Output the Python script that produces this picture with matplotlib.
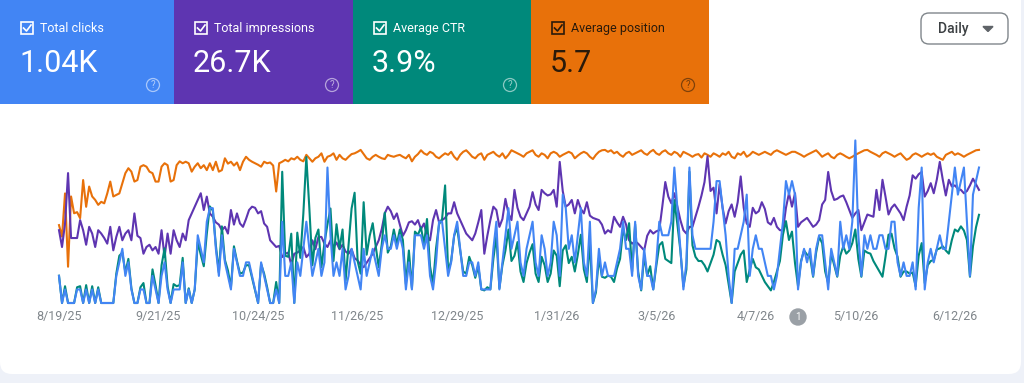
import matplotlib
matplotlib.use("Agg")
import matplotlib.pyplot as plt
from matplotlib.patches import Rectangle, Circle, FancyBboxPatch, Polygon
import numpy as np
import pandas as pd

plt.rcParams['font.family'] = ['Roboto', 'DejaVu Sans']

# daily values, 8/19/25 onward
clicks = [
    2,0,1,0,0,0,1,1,0,1, 0,1,0,1,0,0,0,0,0,2, 3,4,2,3,1,0,0,1,1,0,
    0,2,1,0,2,3,1,0,1,1, 1,3,0,1,0,1,5,4,3,6, 7,7,4,2,5,3,2,1,4,3,
    2,2,3,3,2,1,0,3,2,1, 0,0,1,0,6,2,2,3,0,3, 2,4,6,4,2,3,4,2,3,10,
    5,2,3,2,4,1,2,4,3,2, 1,4,2,3,4,3,2,4,5,4, 4,5,4,5,4,1,3,1,5,5,
    5,
    4,5,2,1,3,6,6,4,2,3, 5,6,4,2,2,3,3,2,3,1, 1,1,1,4,6,1,3,5,7,4,
    5,6,3,2,4,5,6,3,2,5, 4,2,3,6,5,2,8,7,4,5, 3,5,7,3,2,6,0,1,4,
    2,3,2,2,2,3,4,6,4,4, 2,6,2,1,4,2,2,1,3,6, 5,5,5,6,10,7,4,1,3,10,
    5,4,4,4,4,4,4,6,9,9, 7,5,2,0,4,4,5,6,8,2, 4,5,4,4,3,2,2,1,2,4,
    6,9,8,9,
    8,1,3,4,3,4,2,4,5,5, 3,1,4,3,2,6,4,5,4,6, 12,5,2,5,4,5,4,4,5,5,
    4,4,6,6,3,2,3,2,2,3, 1,7,10,1,3,4,3,4,5,4, 4,6,8,10,8,9,10,6,2,8,
    9,10,
]

impressions = [
    65,50,71,116,58,58,58,74,65,52, 68,62,50,65,62,58,53,68,47,59,
    68,56,62,65,56,80,60,58,44,50, 52,47,50,44,65,41,62,44,65,56,
    50,62,56,74,80,86,92,98,83,95, 80,77,72,70,65,68,62,83,70,80,
    71,68,75,83,86,85,80,82,71,68, 56,53,50,51,41,44,45,34,44,45,
    47,50,41,44,56,48,59,59,53,50, 56,50,54,48,52,46,44,48,40,38,
    34,32,36,40,44,50,56,66,80,86, 82,75,80,70,60,65,72,73,70,74,
    66,
    71,60,56,74,83,72,74,76,80,80, 90,80,74,68,62,59,56,62,72,83,
    44,60,74,86,83,68,75,93,80,74, 101,85,77,74,80,86,99,88,83,101,
    98,96,97,101,86,126,100,86,88,92, 80,92,84,80,90,78,76,75,74,70,
    62,65,63,
    77,72,68,77,70,56,53,
    55,53,50,47,60,65,62,64,65,86, 108,95,89,98,86,74,65,62,68,68,
    77,86,96,108,131,100,103,80,106,85, 71,82,88,77,90,113,85,71,68,85,
    80,82,90,84,72,70,76,68,65,65, 85,98,86,
    98,68,72,74,76,72,68,70,74,88, 92,117,100,92,93,95,96,90,83,76,
    80,83,65,72,79,78,77,101,83,110, 95,79,85,88,84,80,74,86,96,114,
    111,115,117,95,100,107,98,110,126,110, 96,110,104,105,102,101,98,100,105,111,
    106,101,
]

ctr = [
    2.6,0,1.6,0,0,0,1.5,1.6,0,1.7, 0,1.6,0,1.5,0,0,0,0,0,2.8,
    4.5,4.8,2.9,4.2,1.4,0,0,1.5,1.9,0, 0,3.2,1.7,0,3.6,5.2,1.6,0,1.8,1.6,
    1.7,4.3,0,1.4,0,1.3,5.8,4.6,3.5,6.6, 9.2,8.8,5.5,2.9,7.3,4.1,3.1,1.5,5.4,4.0,
    2.8,2.9,3.6,3.6,2.4,1.2,0,3.7,2.8,1.5, 0,0,2.0,0,12.5,4.5,4.4,6.6,0,6.7,
    4.3,8.5,13.9,9.0,3.6,6.2,7.0,3.4,5.7,7.5, 9.0,4.0,7.5,5.2,7.0,2.1,5.5,9.0,10.5,4.0,
    2.8,9.6,4.6,6.4,7.6,5.4,3.4,5.6,8.6,4.8, 5.4,7.0,5.6,7.0,6.0,1.8,5.0,1.4,6.8,6.5,
    7.2,
    5.6,8.0,3.5,1.8,5.2,7.5,8.0,11.2,3.0,4.0, 6.4,7.2,5.0,3.0,2.8,4.4,3.6,2.4,3.5,1.3,
    1.2,1.5,1.3,4.2,6.4,1.4,3.6,5.0,7.0,4.0, 4.5,5.8,3.0,2.0,3.8,4.8,5.6,2.8,2.0,4.4,
    3.6,2.0,2.8,5.0,4.5,1.6,5.0,5.5,3.8,4.4, 3.0,4.6,6.5,3.2,2.0,5.8,0,1.0,4.3,2.5,
    2.4,2.6,2.5,
    2.0,3.3,4.2,7.0,6.0,7.6,3.0,
    7.5,3.0,1.2,4.5,2.6,3.5,1.3,3.5,5.5,5.8, 4.2,4.0,3.8,9.8,7.5,5.0,1.6,3.2,12.5,5.5,
    4.4,4.0,4.0,3.6,3.0,3.8,4.6,6.0,5.8,4.6, 3.6,1.8,0,3.0,3.8,4.6,5.0,2.0,3.2,4.2,
    3.4,3.2,2.6,2.0,1.6,1.2,2.0,3.0,4.0,6.5, 7.8,6.0,6.8,
    3.8,1.6,4.0,5.0,4.6,4.4,2.5,4.8,6.3,5.7, 3.0,1.9,4.7,3.6,2.5,4.5,5.4,4.7,5.0,5.7,
    7.0,4.2,2.5,5.0,4.8,4.7,4.0,3.5,3.0,2.5, 4.4,6.5,6.6,5.2,4.4,2.5,3.0,3.0,2.8,2.9,
    1.6,4.5,5.7,1.9,3.6,4.0,4.1,5.1,5.2,5.4, 5.0,4.7,6.0,7.0,6.8,7.3,6.9,6.0,2.5,5.4,
    7.2,8.4,
]

position = [
    24.6,27.6,16.3,35.5,17.1,21.5,21.2,22.8,12.8,19.8, 14.5,17.1,18.0,19.3,18.5,18.9,16.3,13.2,17.1,16.7,
    16.3,13.7,11.0,9.7,10.6,13.2,12.8,9.3,8.9,9.3, 10.6,11.0,13.2,13.2,9.3,8.4,8.9,13.2,12.8,8.9,
    7.9,8.4,8.0,8.4,10.6,9.3,8.4,9.7,8.9,10.2, 8.4,10.2,8.0,10.6,10.2,7.1,8.5,8.0,9.0,8.2,
    10.2,8.0,6.7,7.5,8.0,8.4,8.8,9.3,8.0,8.4, 8.2,9.0,15.8,8.4,8.0,7.5,7.9,7.1,7.4,6.7,
    7.5,7.9,6.2,7.1,8.0,7.1,6.7,5.8,8.0,6.7, 6.4,5.8,7.5,6.2,7.1,7.5,6.7,6.0,5.8,5.4,
    4.9,6.0,7.1,7.5,6.7,6.2,6.7,7.1,7.3,6.2, 6.5,6.7,6.4,6.2,6.7,7.1,6.2,7.9,6.7,6.0,
    5.0,
    5.8,6.2,5.4,5.8,6.7,7.1,6.4,5.8,6.2,5.4, 6.7,7.5,6.2,5.4,5.0,5.8,6.7,7.1,6.2,5.8,
    7.5,6.2,5.8,5.4,6.2,6.7,5.8,7.1,6.2,5.0, 5.4,5.8,6.2,6.7,5.8,5.4,5.0,6.2,6.7,5.8,
    6.2,7.1,5.8,5.4,5.8,6.7,6.2,5.8,5.4,5.8, 7.1,6.4,5.8,5.4,5.8,6.7,7.3,6.2,5.4,5.0,
    4.9,5.4,5.0,
    5.8,5.4,6.2,6.7,5.8,5.4,6.2,5.8,5.4,5.0, 5.8,6.2,5.4,4.9,5.8,6.2,5.4,5.0,5.8,6.2,
    5.4,5.8,6.7,5.4,5.8,6.2,6.7,6.2,6.0,6.9, 5.8,6.2,6.7,5.8,6.2,6.7,5.8,6.2,5.4,6.7,
    7.1,5.8,6.2,5.4,6.7,6.2,5.4,5.8,6.2,5.8, 5.4,5.8,6.2,5.4,5.0,5.4,5.8,6.2,5.8,5.4,
    5.4,5.8,6.2,6.7,6.2,5.8,5.4,5.0,5.8,6.7, 6.2,5.8,6.7,7.1,6.2,5.8,6.2,6.7,7.1,6.7,
    6.2,5.8,5.4,5.0,4.9,5.4,5.8,6.2,6.7,5.8, 5.4,5.8,6.2,6.7,6.2,5.8,6.7,7.5,7.1,6.2,
    5.8,6.2,6.7,6.2,5.8,6.2,5.8,6.7,7.1,7.5, 6.2,5.8,5.4,6.2,5.8,6.2,6.7,6.2,5.8,5.4,
    5.0,4.9,
]

tick_labels = ['8/19/25', '9/21/25', '10/24/25', '11/26/25', '12/29/25',
               '1/31/26', '3/5/26', '4/7/26', '5/10/26', '6/12/26']

card_titles = ['Total clicks', 'Total impressions', 'Average CTR', 'Average position']
card_values = ['1.04K', '26.7K', '3.9%', '5.7']
card_colors = ['#4285f4', '#5e35b1', '#00897b', '#e8710a']
card_edges = [0, 174, 353, 531, 709]

dates = pd.date_range('2025-08-19', periods=len(clicks), freq='D')
tick_dates = pd.to_datetime(tick_labels, format='%m/%d/%y')

W, H = 1024, 383
fig = plt.figure(figsize=(W / 100, H / 100), dpi=100)
fig.patch.set_facecolor('#eef1f8')

# pixel-space layer for the cards and widgets
deco = fig.add_axes([0, 0, 1, 1])
deco.set_xlim(0, W)
deco.set_ylim(H, 0)
deco.axis('off')

deco.add_patch(FancyBboxPatch((0, -30), 1021, 404,
                              boxstyle='round,pad=0,rounding_size=12',
                              facecolor='white', edgecolor='none'))

for i in range(4):
    x0, x1 = card_edges[i], card_edges[i + 1]
    fg = '#2a1a0a' if i == 3 else 'white'
    deco.add_patch(Rectangle((x0, 0), x1 - x0, 104, facecolor=card_colors[i], edgecolor='none'))
    # checkbox
    deco.add_patch(Rectangle((x0 + 21, 22), 12, 12, fill=False, edgecolor=fg, lw=1.2))
    deco.plot([x0 + 23.5, x0 + 26.5, x0 + 31], [28, 31, 25], color=fg, lw=1.2)
    deco.text(x0 + 40, 28.5, card_titles[i], color=fg, fontsize=9, va='center', ha='left')
    deco.text(x0 + 19, 64, card_values[i], color=fg, fontsize=22, va='center', ha='left')
    # help icon
    deco.add_patch(Circle((x1 - 21, 85), 6.5, fill=False, edgecolor=fg, lw=0.9, alpha=0.55))
    deco.text(x1 - 21, 85.5, '?', color=fg, alpha=0.6, fontsize=7, ha='center', va='center')

# "Daily" dropdown
deco.add_patch(FancyBboxPatch((921, 13), 87, 31, boxstyle='round,pad=0,rounding_size=8',
                              facecolor='white', edgecolor='#80868b', lw=1))
deco.text(953, 29, 'Daily', fontsize=10, color='#3c4043', ha='center', va='center', fontweight='medium')
deco.add_patch(Polygon([(983, 26.5), (993, 26.5), (988, 31.5)], closed=True, color='#5f6368'))

# annotation marker
deco.add_patch(Circle((798, 317), 8, color='#9aa0a6'))
deco.text(798, 317.5, '1', fontsize=7, color='white', ha='center', va='center')

# chart: each metric on its own hidden scale
rect = [59 / W, (H - 303) / H, 920 / W, 168 / H]
ax = fig.add_axes(rect)
ax.set_facecolor('none')
ax_imp = ax.twinx()
ax_ctr = ax.twinx()
ax_clk = ax.twinx()

ax.plot(dates, position, color='#e8710a', lw=1.5, clip_on=False)
ax.set_ylim(45, 1)
ax_imp.plot(dates, impressions, color='#5e35b1', lw=1.5, clip_on=False)
ax_imp.set_ylim(0, 150)
ax_ctr.plot(dates, ctr, color='#00897b', lw=1.5, clip_on=False)
ax_ctr.set_ylim(0, 16)
ax_clk.plot(dates, clicks, color='#4285f4', lw=1.5, clip_on=False)
ax_clk.set_ylim(0, 12.4)

ax.set_xlim(dates[0], dates[-1])
ax.set_xticks(tick_dates)
ax.set_xticklabels(tick_labels)
ax.tick_params(axis='x', length=0, pad=5, labelsize=9, labelcolor='#80868b')

for a in (ax, ax_imp, ax_ctr, ax_clk):
    a.set_yticks([])
    for s in a.spines.values():
        s.set_visible(False)

fig.savefig('out.png', dpi=100, facecolor=fig.get_facecolor())
